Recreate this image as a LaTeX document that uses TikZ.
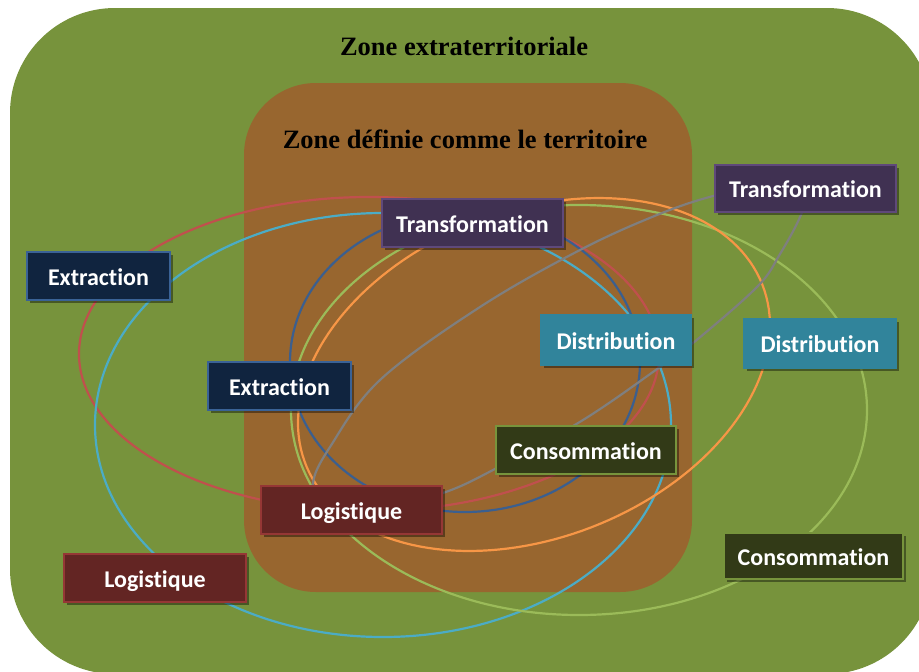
\documentclass[tikz,border=0pt]{standalone}
\usepackage{fontspec}
\setmainfont{Liberation Serif}
\newfontfamily\boxfont{Carlito}[Ligatures=NoCommon]
\usetikzlibrary{shadows}
\definecolor{bggreen}{HTML}{77933C}
\definecolor{bgbrown}{HTML}{98662F}
\definecolor{exfill}{HTML}{10243F}
\definecolor{exline}{HTML}{3A6296}
\definecolor{trfill}{HTML}{403152}
\definecolor{trline}{HTML}{5F497A}
\definecolor{difill}{HTML}{31849B}
\definecolor{diline}{HTML}{31849B}
\definecolor{cofill}{HTML}{323A17}
\definecolor{coline}{HTML}{77943C}
\definecolor{lofill}{HTML}{632523}
\definecolor{loline}{HTML}{953735}
\definecolor{ered}{HTML}{C0504D}
\definecolor{ecyan}{HTML}{4BACC6}
\definecolor{eblue}{HTML}{3B5F8F}
\definecolor{egreen}{HTML}{9BBB59}
\definecolor{eorange}{HTML}{F79646}
\definecolor{egray}{HTML}{7F7F7F}
\begin{document}
\begin{tikzpicture}[x=1pt,y=-1pt,
  box/.style={draw, line width=2pt, text=white, inner sep=0pt,
    text height=20pt, text depth=2pt,
    font=\boxfont\bfseries\fontsize{24}{28}\selectfont,
    drop shadow={shadow xshift=2.5pt, shadow yshift=-2.5pt, opacity=0.4, fill=black}},
  exbox/.style={box, fill=exfill, draw=exline},
  trbox/.style={box, fill=trfill, draw=trline},
  dibox/.style={box, fill=difill, draw=diline},
  cobox/.style={box, fill=cofill, draw=coline},
  lobox/.style={box, fill=lofill, draw=loline},
  ring/.style={line width=2.2pt},
  title/.style={font=\bfseries\fontsize{26.5}{30}\selectfont, anchor=base, inner sep=0pt}]
\clip (0,0) rectangle (919,672);
% zones
\fill[bggreen, rounded corners=105pt] (10,8) rectangle (932,674);
\fill[bgbrown, rounded corners=72pt] (244,83) rectangle (692,592);
\node[title] (zext) at (464,55) {Zone extraterritoriale};
\node[title] (zter) at (465,148) {Zone définie comme le territoire};
% rings
\draw[ring, ered] (369,354) ellipse [x radius=290pt, y radius=157pt];
\draw[ring, ecyan] (383,425) ellipse [x radius=288pt, y radius=212pt];
\draw[ring, eblue] (465,362) ellipse [x radius=175pt, y radius=150pt];
\draw[ring, egreen] (579,410) ellipse [x radius=288pt, y radius=205pt];
\draw[ring, eorange] plot[domain=0:360, samples=160]
  ({534 + 245.4*cos(\x)*0.9304 + 163.2*sin(\x)*0.3665},
   {374.5 - 245.4*cos(\x)*0.3665 + 163.2*sin(\x)*0.9304}) -- cycle;
\draw[ring, egray] plot[smooth cycle, tension=0.6] coordinates {
  (313,483) (330,447) (380,380) (480,307) (580,250) (657,215) (713,196)
  (770,184) (806,192) (800,217) (780,254) (757,287) (693,343) (660,367)
  (583,420) (493,470) (443,493) (375,512) (322,507)};
% boxes
\node[exbox, minimum width=143pt, minimum height=48pt] (extOut) at (98.5,276) {Extraction};
\node[trbox, minimum width=181pt, minimum height=48pt] (trIn) at (472.5,223) {Transformation};
\node[trbox, minimum width=181pt, minimum height=47pt] (trOut) at (805.5,188.5) {Transformation};
\node[exbox, minimum width=143pt, minimum height=48pt] (extIn) at (279.5,386) {Extraction};
\node[dibox, minimum width=150pt, minimum height=50pt] (disIn) at (616,340) {Distribution};
\node[dibox, minimum width=152pt, minimum height=49pt] (disOut) at (820,343.5) {Distribution};
\node[cobox, minimum width=180pt, minimum height=48pt] (conIn) at (586,450) {Consommation};
\node[cobox, minimum width=179pt, minimum height=46pt] (conOut) at (813.5,556) {Consommation};
\node[lobox, minimum width=181pt, minimum height=48pt] (logIn) at (351.5,510) {Logistique};
\node[lobox, minimum width=182pt, minimum height=48pt] (logOut) at (155,578) {Logistique};
\end{tikzpicture}
\end{document}
